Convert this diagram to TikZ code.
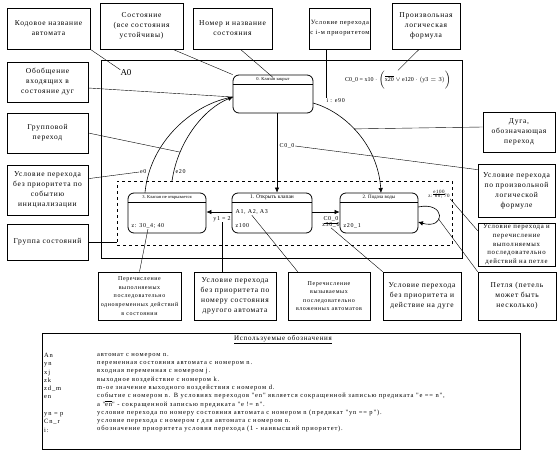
\documentclass[tikz,border=0pt]{standalone}
\usepackage{fontspec}
\setmainfont{Liberation Serif}
\newfontfamily\spc[LetterSpace=10]{Liberation Serif}
\newfontfamily\spl[LetterSpace=13]{Liberation Serif}
\usetikzlibrary{arrows.meta,calc}
\begin{document}
\begin{tikzpicture}[x=1pt,y=-1pt,
  box/.style={draw,line width=0.7pt,align=center,inner sep=1pt,font=\spc\fontsize{7.5}{10}\selectfont},
  smallbox/.style={box,font=\spc\fontsize{6}{8.6}\selectfont},
  midbox/.style={box,font=\spc\fontsize{6.8}{8.6}\selectfont},
  lead/.style={line width=0.4pt},
  stbox/.style={draw,line width=0.8pt,rounded corners=6pt,inner sep=0pt},
  sttitle/.style={font=\fontsize{4.5}{5}\selectfont,inner sep=0pt},
  lbl/.style={font=\spc\fontsize{6}{7}\selectfont,inner sep=0.5pt},
  arr/.style={line width=0.6pt,-{Latex[length=5pt,width=4.5pt]}},
  legtxt/.style={anchor=north west,align=left,inner sep=0pt,font=\spl\fontsize{6.5}{8.3}\selectfont},
]
\useasboundingbox (0,0) rectangle (560,453);

% top callouts
\node[box, minimum width=83pt, minimum height=41pt] (b1) at (48.5,28.5) {Кодовое название\\автомата};
\node[box, minimum width=83pt, minimum height=46pt] (b2) at (141.5,26) {Состояние\\(все состояния\\устойчивы)};
\node[box, minimum width=79pt, minimum height=41pt] (b3) at (232.5,28.5) {Номер и название\\состояния};
\node[box, font=\spc\fontsize{6.5}{10}\selectfont, minimum width=56pt, minimum height=41pt] (b4) at (340,28.5) {Условие перехода\\с i-м приоритетом};
\node[box, minimum width=68pt, minimum height=46pt] (b5) at (426,26) {Произвольная\\логическая\\формула};
% left callouts
\node[box, minimum width=81pt, minimum height=40pt] (b6) at (47.5,82) {Обобщение\\входящих в\\состояние дуг};
\node[box, minimum width=81pt, minimum height=40pt] (b7) at (47.5,133) {Групповой\\переход};
\node[box, minimum width=81pt, minimum height=50pt] (b8) at (47.5,190) {Условие перехода\\без приоритета по\\событию\\инициализации};
\node[box, minimum width=81pt, minimum height=36pt] (b9) at (47.5,242) {Группа состояний};
% right callouts
\node[box, minimum width=72pt, minimum height=40pt] (b10) at (519,132) {Дуга,\\обозначающая\\переход};
\node[box, minimum width=77pt, minimum height=53pt] (b11) at (516.5,190.5) {Условие перехода\\по произвольной\\логической\\формуле};
\node[midbox, minimum width=77pt, minimum height=43pt] (b12) at (516.5,244.5) {Условие перехода и\\перечисление\\выполняемых\\последовательно\\действий на петле};
% bottom callouts
\node[smallbox, minimum width=83pt, minimum height=48pt] (b14) at (139.5,296) {Перечисление\\выполняемых\\последовательно\\одновременных действий\\в состоянии};
\node[box, minimum width=82pt, minimum height=48pt] (b15) at (235,296) {Условие перехода\\без приоритета по\\номеру состояния\\другого автомата};
\node[smallbox, minimum width=82pt, minimum height=48pt] (b16) at (329,296) {Перечисление\\вызываемых\\последовательно\\вложенных автоматов};
\node[box, minimum width=78pt, minimum height=48pt] (b17) at (422,296) {Условие перехода\\без приоритета и\\действие на дуге};
\node[box, minimum width=78pt, minimum height=48pt] (b18) at (517,296) {Петля (петель\\может быть\\несколько)};

% automaton frame
\node[draw, line width=0.8pt, minimum width=361pt, minimum height=198pt, inner sep=0pt] (fr) at (281.5,159) {};
\node[font=\fontsize{9}{10}\selectfont, inner sep=0pt] (a0) at (126,73) {A0};
% group
\node[draw, dashed, line width=0.7pt, minimum width=335pt, minimum height=64pt, inner sep=0pt] (grp) at (284.5,213) {};

% states
\node[stbox, minimum width=80pt, minimum height=38pt] (s0) at (273,94) {};
\draw[line width=0.6pt] ($(s0.north west)+(0,10)$) -- ($(s0.north east)+(0,10)$);
\node[sttitle] (t0) at ($(s0.north)+(0,5)$) {0. Клапан закрыт};

\node[stbox, minimum width=78pt, minimum height=40pt] (s3) at (167,213) {};
\draw[line width=0.6pt] ($(s3.north west)+(0,10)$) -- ($(s3.north east)+(0,10)$);
\node[sttitle] (t3) at ($(s3.north)+(0,5)$) {3. Клапан не открывается};
\node[lbl, anchor=west] (c3) at (131,226) {z: 30\_4; 40};

\node[stbox, minimum width=80pt, minimum height=40pt] (s1) at (272,213) {};
\draw[line width=0.6pt] ($(s1.north west)+(0,10)$) -- ($(s1.north east)+(0,10)$);
\node[sttitle, font=\fontsize{5.5}{6}\selectfont] (t1) at ($(s1.north)+(0,5)$) {1. Открыть клапан};
\node[lbl, anchor=west] (c1a) at (235,212) {A1, A2, A3};
\node[lbl, anchor=west] (c1b) at (235,226) {z100};

\node[stbox, minimum width=78pt, minimum height=40pt] (s2) at (379,213) {};
\draw[line width=0.6pt] ($(s2.north west)+(0,10)$) -- ($(s2.north east)+(0,10)$);
\node[sttitle, font=\fontsize{5}{6}\selectfont] (t2) at ($(s2.north)+(0,5)$) {2. Подача воды};
\node[lbl, anchor=west] (c2) at (343,226) {z20\_1};

% transitions
\coordinate (vx) at (277,0);
\coordinate (ay) at (0,212);
\draw[arr] (s0.south -| vx) -- (s1.north -| vx);
\node[lbl, anchor=west] (lc00) at (279,146) {C0\_0};
\draw[arr] (s1.west |- ay) -- (s3.east |- ay);
\node[lbl] (ly12) at (222,219) {y1 = 2};
\draw[arr] (s1.east |- ay) -- (s2.west |- ay);
\node[lbl, align=center] (lc0z) at (331,222) {\underline{C0\_0}\\[-1.5pt]z30\_0};

\coordinate (s0in) at (233,97);
\draw[line width=0.6pt] (s3.north -| 145,0) .. controls (150,140) and (195,103) .. (s0in);
\draw[arr] (172,181) .. controls (178,140) and (205,108) .. coordinate[pos=0.25] (garc) (s0in);
\node[lbl, anchor=east] (le0) at (147,172) {e0};
\node[lbl, anchor=west] (le20) at (175,172) {e20};

\draw[arr] (313,103) .. controls (345,112) and (378,145) .. coordinate[pos=0.45] (darc) (381,193);
\node[lbl, anchor=west] (li) at (326,101) {i : e90};

\draw[arr] (418,207) .. controls +(28,-6) and +(28,8) .. coordinate[pos=0.6] (loop) (418,222);
\node[lbl, align=center, font=\spc\fontsize{5}{6}\selectfont] (lloop) at (439,194) {\underline{e100}\\[-1.5pt]z: 60; 70};

\node[lbl, font=\fontsize{6}{7}\selectfont] (form) at (398,80) {C0\_0 = x10 $\cdot$ $\bigl(\overline{\hbox{x20}}\vee\hbox{e120}\cdot(\hbox{y3} = 3)\bigr)$};

% leader lines
\draw[lead] (b1.south east) -- (a0.north west);
\draw[lead] ($(b2.south)!0.75!(b2.south east)$) -- (s0.north west);
\draw[lead] ($(b3.south)!0.2!(b3.south east)$) -- (t0.north);
\draw[lead] (b4.south -| li.north west) -- (li.north west);
\draw[lead] ($(b5.south)!0.2!(b5.south west)$) -- (form.north);
\draw[lead] ($(b6.east)+(0,6)$) -- (s0in);
\draw[lead] (b7.east) -- (garc);
\draw[lead] ($(b8.north east)+(0,14)$) -- (le0.west);
\draw[lead] (b9.east) -- (b9.east -| grp.west);
\draw[lead] ($(b10.west)+(0,-5)$) -- (darc);
\draw[lead] ($(b11.north west)+(0,6)$) -- (lc00.east);
\draw[lead] ($(b12.north west)+(0,8)$) -- (lloop.south east);
\draw[lead] (b18.north west) -- (loop);
\draw[lead] (b17.north west) -- (lc0z.south);
\draw[lead] ($(b16.north west)+(10,0)$) -- (c1a.south);
\draw[lead] (b15.north -| ly12.south) -- (ly12.south);
\draw[lead] ($(b14.north)+(0,0)$) -- (c3.south);

% legend
\node[draw, line width=0.8pt, minimum width=478pt, minimum height=116pt, inner sep=0pt] (leg) at (281,391) {};
\node[font=\spc\fontsize{7}{8}\selectfont, inner sep=0pt] (legt) at (283,340) {\underline{Используемые обозначения}};
\node[legtxt] (legl) at (44,353) {An\\yn\\xj\\zk\\zd\_m\\en\\\mbox{}\\yn = p\\Cn\_r\\i:};
\node[legtxt] (legr) at (97,353) {автомат с номером n.\\
переменная состояния автомата с номером n.\\
входная переменная с номером j.\\
выходное воздействие с номером k.\\
m-ое значение выходного воздействия с номером d.\\
событие с номером n. В условиях переходов "en" является сокращенной записью предиката "e == n",\\
а "$\overline{\hbox{en}}$" - сокращенной записью предиката "e != n".\\
условие перехода по номеру состояния автомата с номером n (предикат "yn == p").\\
условие перехода с номером r для автомата с номером n.\\
обозначение приоритета условия перехода (1 - наивысший приоритет).};
\end{tikzpicture}
\end{document}
